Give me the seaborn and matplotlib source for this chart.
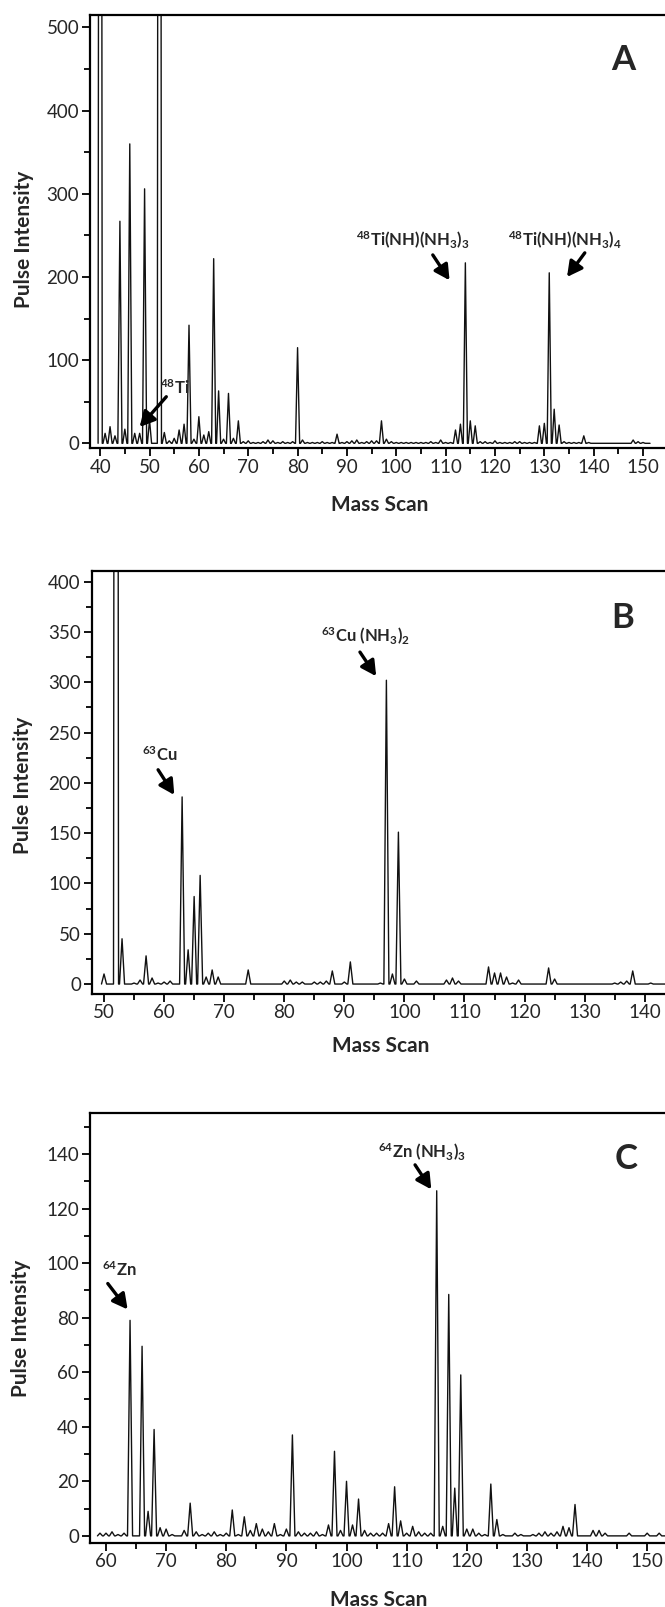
import numpy as np
import pandas as pd
import matplotlib
matplotlib.use("Agg")
import matplotlib.pyplot as plt
import seaborn as sns
from matplotlib.ticker import MultipleLocator

# Peak heights (integer mass -> pulse intensity)
# 3000 marks peaks that run off the top of the panel
mass_a = [40, 41, 42, 43, 44, 45, 46, 47, 48, 49, 50, 51, 52, 53, 54, 55, 56, 57, 58, 59,
          60, 61, 62, 63, 64, 65, 66, 67, 68, 69, 70, 71, 72, 73, 74, 75, 76, 77, 78, 79,
          80, 81, 82, 83, 84, 85, 86, 87, 88, 89, 90, 91, 92, 93, 94, 95, 96, 97, 98, 99,
          100, 101, 102, 103, 104, 105, 106, 107, 108, 109, 110, 111, 112, 113, 114, 115, 116, 117, 118, 119,
          120, 121, 122, 123, 124, 125, 126, 127, 128, 129, 130, 131, 132, 133, 134, 135, 136, 137, 138, 139,
          140, 141, 142, 143, 144, 145, 146, 147, 148, 149, 150, 151]
int_a = [3000, 12, 20, 9, 267, 17, 360, 12, 12, 306, 28, 0, 3000, 13, 3, 6, 16, 23, 142, 5,
         32, 10, 14, 222, 63, 5, 60, 6, 27, 2, 3, 1, 1, 2, 4, 3, 1, 2, 1, 2,
         115, 4, 1, 1, 1, 2, 1, 1, 11, 1, 2, 3, 4, 1, 2, 3, 3, 27, 5, 2,
         1, 1, 1, 1, 1, 1, 1, 2, 1, 4, 1, 1, 16, 23, 217, 27, 21, 2, 2, 1,
         3, 1, 1, 1, 2, 2, 1, 1, 1, 21, 24, 205, 41, 22, 2, 1, 1, 1, 9, 1,
         0, 0, 0, 0, 0, 0, 0, 0, 4, 2, 1, 0]

mass_b = [50, 51, 52, 53, 54, 55, 56, 57, 58, 59, 60, 61, 62, 63, 64, 65, 66, 67, 68, 69,
          70, 71, 72, 73, 74, 75, 76, 77, 78, 79, 80, 81, 82, 83, 84, 85, 86, 87, 88, 89,
          90, 91, 92, 93, 94, 95, 96, 97, 98, 99, 100, 101, 102, 103, 104, 105, 106, 107, 108, 109,
          110, 111, 112, 113, 114, 115, 116, 117, 118, 119, 120, 121, 122, 123, 124, 125, 126, 127, 128, 129,
          130, 131, 132, 133, 134, 135, 136, 137, 138, 139, 140, 141, 142, 143, 144, 145]
int_b = [10, 0, 3000, 45, 0, 1, 4, 28, 6, 1, 2, 3, 0, 186, 34, 87, 108, 7, 14, 7,
         0, 0, 0, 0, 14, 0, 0, 0, 0, 0, 3, 4, 2, 2, 0, 2, 2, 3, 13, 0,
         2, 22, 0, 0, 0, 0, 1, 302, 10, 151, 5, 0, 3, 0, 0, 0, 0, 4, 6, 3,
         0, 0, 0, 0, 17, 11, 11, 7, 1, 4, 0, 0, 0, 0, 16, 5, 0, 0, 0, 0,
         0, 0, 0, 0, 0, 1, 2, 3, 13, 0, 0, 1, 0, 0, 0, 0]

mass_c = [59, 60, 61, 62, 63, 64, 65, 66, 67, 68, 69, 70, 71, 72, 73, 74, 75, 76, 77, 78, 79,
          80, 81, 82, 83, 84, 85, 86, 87, 88, 89, 90, 91, 92, 93, 94, 95, 96, 97, 98, 99,
          100, 101, 102, 103, 104, 105, 106, 107, 108, 109, 110, 111, 112, 113, 114, 115, 116, 117, 118, 119,
          120, 121, 122, 123, 124, 125, 126, 127, 128, 129, 130, 131, 132, 133, 134, 135, 136, 137, 138, 139,
          140, 141, 142, 143, 144, 145, 146, 147, 148, 149, 150, 151, 152, 153, 154]
int_c = [1, 1, 1.5, 0.5, 1, 79, 0, 69.5, 9, 39, 3, 2.5, 0.5, 0, 2, 12, 1.5, 0.5, 1, 1.5, 0.5,
         1, 9.5, 0.5, 7, 2, 4.5, 2.5, 1.5, 4.5, 0.5, 2.5, 37, 1.5, 1, 1, 1.5, 0.5, 4, 31, 2,
         20, 4, 13.5, 2, 1, 1, 1, 4.5, 18, 5.5, 1, 3.5, 1.5, 1, 1, 126.5, 3.5, 88.5, 17.5, 59,
         2.5, 2.5, 1, 0.5, 19, 6, 0.5, 0, 1, 0.5, 0, 0.5, 1, 1.5, 1, 1.5, 3.5, 3, 11.5, 0,
         0, 2, 2, 1, 0, 0, 0, 1, 0, 0, 1, 0, 1, 0, 0]

# Axis labels and panel letters
x_label = "Mass Scan"
y_label = "Pulse Intensity"
panel_letters = ["A", "B", "C"]

sns.set_style("ticks")
plt.rcParams["font.family"] = ["Lato", "DejaVu Sans"]
plt.rcParams["mathtext.fontset"] = "custom"
plt.rcParams["mathtext.rm"] = "Lato:bold"
plt.rcParams["mathtext.it"] = "Lato:bold"
plt.rcParams["mathtext.bf"] = "Lato:bold"
plt.rcParams["mathtext.default"] = "rm"

W, H = 665, 1607
fig = plt.figure(figsize=(W / 100, H / 100), dpi=100)


def stick_profile(masses, heights, half=0.42):
    # turn each integer-mass peak into a narrow spike on a zero baseline
    xs, ys = [], []
    for m, h in zip(masses, heights):
        xs += [m - half, m, m + half]
        ys += [0, h, 0]
    return pd.DataFrame({"mass": xs, "intensity": ys})


def make_axes(left, top, bottom, xlim, ppu):
    width = (xlim[1] - xlim[0]) * ppu
    return fig.add_axes([left / W, 1 - bottom / H, width / W, (bottom - top) / H])


panels = [
    dict(m=mass_a, h=int_a, left=90.3, top=15.0, bottom=448.3, xlim=(38.0, 160.0), ppu=4.935,
         ylim=(-6, 515), ymaj=100, ymin=50, xmaj=10, xmin=5,
         ylab=(-0.093, 0.483), xlab=(0.480, -0.108), letter=(145.9, 461)),
    dict(m=mass_b, h=int_b, left=92.0, top=571.0, bottom=994.0, xlim=(48.0, 150.0), ppu=6.008,
         ylim=(-9.9, 410.6), ymaj=50, ymin=25, xmaj=10, xmin=5,
         ylab=(-0.096, 0.494), xlab=(0.4716, -0.100), letter=(136.4, 364)),
    dict(m=mass_c, h=int_c, left=90.0, top=1113.3, bottom=1542.7, xlim=(57.34, 160.0), ppu=6.013,
         ylim=(-2.5, 154.9), ymaj=20, ymin=10, xmaj=10, xmin=5,
         ylab=(-0.095, 0.498), xlab=(0.468, -0.110), letter=(146.5, 138.1)),
]

axes = []
for p, letter in zip(panels, panel_letters):
    ax = make_axes(p["left"], p["top"], p["bottom"], p["xlim"], p["ppu"])
    df = stick_profile(p["m"], p["h"])
    sns.lineplot(data=df, x="mass", y="intensity", sort=False, estimator=None,
                 color="#111111", lw=1.0, ax=ax)
    ax.set_xlim(*p["xlim"])
    ax.set_ylim(*p["ylim"])
    ax.xaxis.set_major_locator(MultipleLocator(p["xmaj"]))
    ax.xaxis.set_minor_locator(MultipleLocator(p["xmin"]))
    ax.yaxis.set_major_locator(MultipleLocator(p["ymaj"]))
    ax.yaxis.set_minor_locator(MultipleLocator(p["ymin"]))
    ax.tick_params(which="both", direction="out", width=1.3, color="black",
                   top=False, right=False)
    ax.tick_params(which="major", length=5.5)
    ax.tick_params(which="minor", length=4.5)
    ax.tick_params(axis="x", which="major", labelsize=13.5, pad=2)
    ax.tick_params(axis="y", which="major", labelsize=13.5, pad=2.5)
    for s in ax.spines.values():
        s.set_linewidth(1.6)
        s.set_color("black")
    ax.set_xlabel(x_label, fontsize=15, fontweight="bold")
    ax.set_ylabel(y_label, fontsize=15, fontweight="bold")
    ax.yaxis.set_label_coords(*p["ylab"])
    ax.xaxis.set_label_coords(*p["xlab"])
    ax.text(p["letter"][0], p["letter"][1], letter, fontsize=25, fontweight="bold",
            ha="center", va="center")
    axes.append(ax)

arrow = dict(arrowstyle="-|>,head_length=0.6,head_width=0.32", color="black", lw=2.4,
             shrinkA=0, shrinkB=0, mutation_scale=15)
txt = dict(fontsize=12, fontweight="bold", ha="center", va="center")

ax_a, ax_b, ax_c = axes
# panel A
ax_a.text(55.1, 67, r"$^{48}$Ti", **txt)
ax_a.annotate("", xy=(48.0, 19.6), xytext=(53.4, 56), arrowprops=arrow)
ax_a.text(103.3, 244, r"$^{48}$Ti(NH)(NH$_3$)$_3$", **txt)
ax_a.annotate("", xy=(110.8, 196), xytext=(107.4, 226.5), arrowprops=arrow)
ax_a.text(134.1, 244, r"$^{48}$Ti(NH)(NH$_3$)$_4$", **txt)
ax_a.annotate("", xy=(134.6, 200), xytext=(138.2, 229), arrowprops=arrow)
# panel B
ax_b.text(59.3, 228, r"$^{63}$Cu", **txt)
ax_b.annotate("", xy=(61.7, 188), xytext=(59.0, 213), arrowprops=arrow)
ax_b.text(93.6, 346, r"$^{63}$Cu (NH$_3$)$_2$", **txt)
ax_b.annotate("", xy=(95.3, 306), xytext=(92.6, 330), arrowprops=arrow)
# panel C
ax_c.text(62.2, 97.5, r"$^{64}$Zn", **txt)
ax_c.annotate("", xy=(63.6, 83), xytext=(60.3, 92.5), arrowprops=arrow)
ax_c.text(112.5, 140.7, r"$^{64}$Zn (NH$_3$)$_3$", **txt)
ax_c.annotate("", xy=(114.1, 127), xytext=(111.4, 136), arrowprops=arrow)

fig.savefig("out.png", dpi=100)
